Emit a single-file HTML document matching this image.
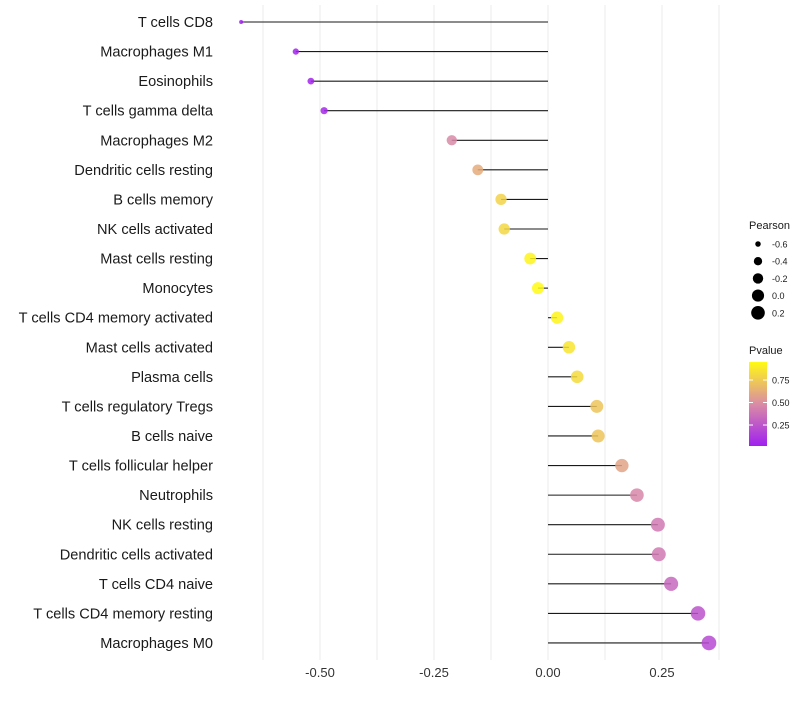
<!DOCTYPE html>
<html><head><meta charset="utf-8"><style>
body{margin:0;background:#fff;font-family:"Liberation Sans",sans-serif}
</style></head><body>
<svg id="chart" width="800" height="700" xmlns="http://www.w3.org/2000/svg" font-family="Liberation Sans, sans-serif"></svg>
<script>
const categories=["T cells CD8","Macrophages M1","Eosinophils","T cells gamma delta","Macrophages M2","Dendritic cells resting","B cells memory","NK cells activated","Mast cells resting","Monocytes","T cells CD4 memory activated","Mast cells activated","Plasma cells","T cells regulatory  Tregs ","B cells naive","T cells follicular helper","Neutrophils","NK cells resting","Dendritic cells activated","T cells CD4 naive","T cells CD4 memory resting","Macrophages M0"];
const pearson=[-0.673,-0.553,-0.520,-0.491,-0.211,-0.154,-0.103,-0.096,-0.039,-0.022,0.020,0.046,0.064,0.107,0.110,0.162,0.195,0.241,0.243,0.270,0.329,0.353];
const pvalue=[0.017,0.03,0.04,0.05,0.47,0.62,0.78,0.80,0.93,0.95,0.93,0.86,0.82,0.72,0.72,0.58,0.46,0.40,0.40,0.33,0.24,0.20];
const xTicks=[-0.5,-0.25,0,0.25];
const xTickLabels=["-0.50","-0.25","0.00","0.25"];
const sizeLegend=[-0.6,-0.4,-0.2,0.0,0.2];
const colorTicks=[0.25,0.5,0.75];
const NS="http://www.w3.org/2000/svg";
const svg=document.getElementById('chart');
function mk(t,a,p){const e=document.createElementNS(NS,t);for(const k in a)e.setAttribute(k,a[k]);(p||svg).appendChild(e);return e;}
const x=v=>548+v*456;
const y=i=>22+i*29.57;
const pMin=Math.min(...pvalue),pMax=Math.max(...pvalue);
const vMin=Math.min(...pearson),vMax=Math.max(...pearson);
const rad=v=>Math.sqrt(4+(54-4)*Math.max(0,(v-vMin)/(vMax-vMin)));
const stops=[[160,32,240],[218,140,165],[255,250,20]];
function col(p){let t=(p-pMin)/(pMax-pMin);t=Math.max(0,Math.min(1,t));const s=t<0.5?0:1;const f=t<0.5?t*2:(t-0.5)*2;const a=stops[s],b=stops[s+1];return `rgb(${a.map((c,i)=>Math.round(c+(b[i]-c)*f)).join(',')})`;}
for(let v=-0.625;v<=0.38;v+=0.125){const g=mk('line',{x1:x(v),x2:x(v),y1:5,y2:660,stroke:'#ebebeb','stroke-width':1});

}
xTicks.forEach((v,i)=>{const t=mk('text',{x:x(v),y:677,'text-anchor':'middle','font-size':13,fill:'#333'});t.textContent=xTickLabels[i];

});
categories.forEach((c,i)=>{
const t=mk('text',{x:213,y:y(i)+5,'text-anchor':'end','font-size':14.6,fill:'#1a1a1a'});t.textContent=c;


const l=mk('line',{x1:x(0),x2:x(pearson[i]),y1:y(i),y2:y(i),stroke:'#1a1a1a','stroke-width':1.1});


const d=mk('circle',{cx:x(pearson[i]),cy:y(i),r:rad(pearson[i]),fill:col(pvalue[i]),'fill-opacity':0.85});


});
const st=mk('text',{x:749,y:229,'font-size':11,fill:'#1a1a1a'});st.textContent='Pearson';


sizeLegend.forEach((v,i)=>{const cy=244+i*17.2;
const c=mk('circle',{cx:758,cy:cy,r:rad(v),fill:'#000'});


const t=mk('text',{x:772,y:cy+3.5,'font-size':9,fill:'#1a1a1a'});t.textContent=v.toFixed(1);

});
const ct=mk('text',{x:749,y:354,'font-size':11,fill:'#1a1a1a'});ct.textContent='Pvalue';


const defs=mk('defs',{});const lg=mk('linearGradient',{id:'pg',x1:0,y1:1,x2:0,y2:0},defs);
[0,0.5,1].forEach((o,i)=>mk('stop',{offset:o,'stop-color':`rgb(${stops[i].join(',')})`},lg));
const cbTop=362,cbBot=446;const cy=p=>cbBot-(p-pMin)/(pMax-pMin)*(cbBot-cbTop);
const cb=mk('rect',{x:749,y:cbTop,width:18,height:cbBot-cbTop,fill:'url(#pg)'});


colorTicks.forEach(p=>{mk('line',{x1:749,x2:753,y1:cy(p),y2:cy(p),stroke:'#fff'});mk('line',{x1:763,x2:767,y1:cy(p),y2:cy(p),stroke:'#fff'});
const t=mk('text',{x:772,y:cy(p)+3.5,'font-size':9,fill:'#1a1a1a'});t.textContent=p.toFixed(2);

});
</script>
</body></html>
